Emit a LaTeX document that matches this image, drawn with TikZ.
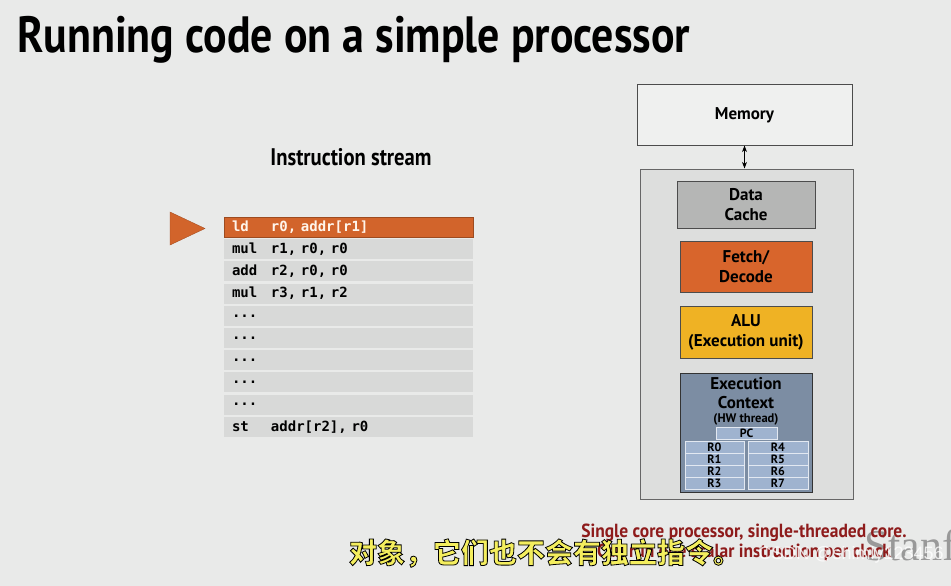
\documentclass[tikz,border=0pt]{standalone}
\usepackage{fontspec}
\setmainfont{PT Sans}
\setmonofont{DejaVu Sans Mono}
\newfontfamily\condfont[FakeStretch=0.86]{PT Sans}
\newfontfamily\capfont[FakeStretch=0.92]{PT Sans}
\newfontfamily\cjkfont{Noto Sans CJK SC}
\newfontfamily\wmfont{Liberation Sans}
\newfontfamily\logofont{Liberation Serif}
\usetikzlibrary{arrows.meta}

\definecolor{slidebg}{HTML}{E9EAE9}
\definecolor{rowgray}{HTML}{D8D9D8}
\definecolor{hiorange}{HTML}{D2642B}
\definecolor{fetchorange}{HTML}{D8652C}
\definecolor{alugold}{HTML}{EFB224}
\definecolor{ctxblue}{HTML}{7C8DA3}
\definecolor{regblue}{HTML}{9FB3CF}
\definecolor{cachegray}{HTML}{B5B6B5}
\definecolor{cpugray}{HTML}{DDDEDD}
\definecolor{memwhite}{HTML}{EFF0EF}
\definecolor{capred}{HTML}{8E1B1B}
\definecolor{subyellow}{HTML}{F4EE5E}
\newcommand\instdots{...}
% outlined subtitle text: fill + stroke render mode
\newcommand\outlined[1]{\special{pdf:literal direct 2 Tr 0 G 0.8 w}#1\special{pdf:literal direct 0 Tr}}

\begin{document}
\begin{tikzpicture}[x=1pt,y=-1pt,>=Stealth,
  unit/.style={draw=black!70,line width=1pt,align=center,inner sep=0pt,
    font=\bfseries\fontsize{17}{20}\selectfont},
  instrow/.style={fill=rowgray,minimum height=20pt,text width=233pt,inner xsep=8pt,
    inner ysep=0pt,align=left,font=\ttfamily\bfseries\fontsize{14}{15}\selectfont},
  reg/.style={fill=regblue,draw=white!70!regblue,line width=0.6pt,minimum height=12pt,
    inner sep=0pt,font=\bfseries\fontsize{12}{12}\selectfont}]
\useasboundingbox (0,0) rectangle (951,586);
\fill[slidebg] (0,0) rectangle (951,586);

% title
\node[anchor=base west,inner sep=0pt,font=\condfont\bfseries\fontsize{51}{55}\selectfont] (title) at (17,53) {Running code on a simple processor};

% instruction stream
\node[inner sep=0pt,font=\condfont\bfseries\fontsize{24}{26}\selectfont] (streamtitle) at (351,157) {Instruction stream};
\foreach \op/\args [count=\i] in {ld/{r0, addr[r1]},mul/{r1, r0, r0},add/{r2, r0, r0},mul/{r3, r1, r2},
    \instdots/{},\instdots/{},\instdots/{},\instdots/{},\instdots/{},st/{addr[r2], r0}}
  \node[instrow] (row\i) at (348.5,{227+(\i-1)*22.2}) {\makebox[39pt][l]{\op}\args};
\node[instrow,fill=hiorange,draw=hiorange!75!black,text=white!92!orange] (current) at (row1) {\makebox[39pt][l]{ld}r0, addr[r1]};
\fill[hiorange,draw=hiorange!80!black] (170,212) -- (205,228.5) -- (170,245) -- cycle;

% processor
\node[unit,fill=memwhite,minimum width=215pt,minimum height=60pt] (mem) at (744.5,115) {Memory};
\node[unit,fill=cpugray,draw=black!60,minimum width=213pt,minimum height=330pt] (cpu) at (746.5,334) {};
\draw[<->,thick] (mem.south) -- (mem.south |- cpu.north);
\node[unit,fill=cachegray,minimum width=138pt,minimum height=47pt] (cache) at (746,204.5) {Data\\Cache};
\node[unit,fill=fetchorange,minimum width=132pt,minimum height=51pt] (fetch) at (746,266.5) {Fetch/\\Decode};
\node[unit,fill=alugold,minimum width=132pt,minimum height=52pt] (alu) at (746,332) {ALU\\(Execution unit)};
\node[unit,fill=ctxblue,draw=black!80,minimum width=132pt,minimum height=119pt] (ctx) at (746,432.5) {};
\node[anchor=north,align=center,inner sep=0pt,font=\bfseries\fontsize{17}{19}\selectfont] (ctxlabel) at (746,377)
  {Execution\\Context\\[-5pt]{\fontsize{12.5}{13}\selectfont(HW thread)}};
\node[reg,minimum width=61pt] (pc) at (746.5,433) {PC};
\foreach \j in {0,1,2,3}{
  \pgfmathtruncatemacro{\k}{\j+4}
  \node[reg,minimum width=59pt] (reg\j) at (714.5,{447+\j*12}) {R\j};
  \node[reg,minimum width=60pt] (reg\k) at (778,{447+\j*12}) {R\k};
}

% logo behind the caption
\begin{scope}
\clip (0,0) rectangle (951,586);
\node[anchor=base west,inner sep=0pt,text=gray!80,font=\logofont\fontsize{44}{48}\selectfont] (logo) at (864,560) {Stanford};
\end{scope}

% caption
\node[align=center,inner sep=0pt,text=capred,font=\capfont\bfseries\fontsize{19}{20}\selectfont] (caption) at (744,543)
  {Single core processor, single-threaded core.\\Can run one scalar instruction per clock};

% overlays
\node[inner sep=0pt,text=subyellow,font=\cjkfont\bfseries\fontsize{28}{30}\selectfont] (subtitle) at (545,553) {\outlined{对象，它们也不会有独立指令。}};
\node[inner sep=0pt,text=white,opacity=0.8,font=\wmfont\fontsize{18}{20}\selectfont] (watermark) at (851,555) {CSDN @shimly123456};
\end{tikzpicture}
\end{document}
